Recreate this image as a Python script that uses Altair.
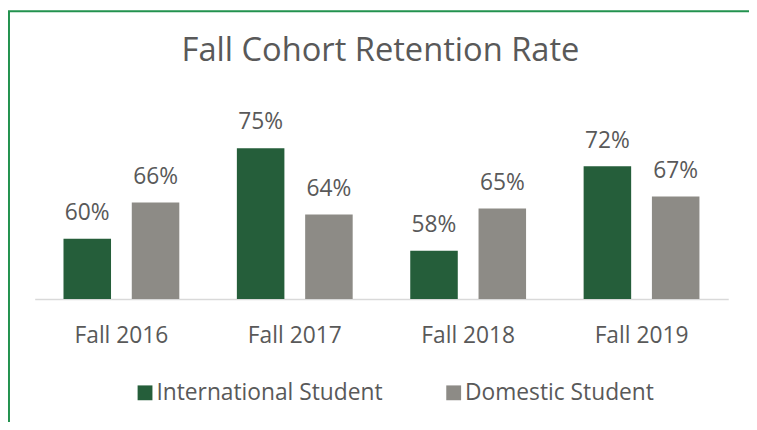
import altair as alt
import pandas as pd

cohorts = ["Fall 2016", "Fall 2017", "Fall 2018", "Fall 2019"]
series = ["International Student", "Domestic Student"]
international = [0.60, 0.75, 0.58, 0.72]
domestic = [0.66, 0.64, 0.65, 0.67]
colors = ["#255E3A", "#8D8B86"]
title_text = "Fall Cohort Retention Rate"

rows = []
for i, c in enumerate(cohorts):
    rows.append({"cohort": c, "group": series[0], "rate": international[i]})
    rows.append({"cohort": c, "group": series[1], "rate": domestic[i]})
df = pd.DataFrame(rows)

FONT = "Open Sans"
TXT = "#595959"
FS = 23

x_enc = alt.X("cohort:N", sort=cohorts,
              scale=alt.Scale(paddingInner=0.332, paddingOuter=0.166),
              axis=alt.Axis(title=None, labelAngle=0, ticks=False, domain=True,
                            domainColor="#D9D9D9", domainWidth=1.5,
                            labelFont=FONT, labelFontSize=FS, labelColor=TXT,
                            labelBaseline="alphabetic", labelPadding=44))
xo_enc = alt.XOffset("group:N", sort=series,
                     scale=alt.Scale(paddingInner=0.304, paddingOuter=0))
y_enc = alt.Y("rate:Q", scale=alt.Scale(domain=[0.5, 0.8], nice=False, zero=False),
              axis=None)

base = alt.Chart(df)

bars = base.mark_bar().encode(
    x=x_enc, xOffset=xo_enc, y=y_enc, y2=alt.datum(0.5),
    color=alt.Color("group:N", sort=series,
                    scale=alt.Scale(domain=series, range=colors),
                    legend=alt.Legend(title=None, orient="none", direction="horizontal",
                                      legendX=100, legendY=266,
                                      symbolType="square", symbolSize=225,
                                      symbolStrokeWidth=0, symbolOpacity=1,
                                      labelFont=FONT, labelFontSize=FS, labelColor=TXT,
                                      labelOffset=0, columnPadding=60,
                                      labelLimit=400)),
)

labels = base.mark_text(font=FONT, fontSize=FS, color=TXT, baseline="alphabetic", dy=-19).encode(
    x=x_enc, xOffset=xo_enc, y=y_enc,
    text=alt.Text("rate:Q", format=".0%"),
)

title = alt.Chart(pd.DataFrame({"t": [title_text]})).mark_text(
    font=FONT, fontSize=33, color=TXT, baseline="alphabetic", align="center"
).encode(
    x=alt.value(349.5), y=alt.value(-58), text="t:N",
)

frame = alt.Chart(pd.DataFrame({"k": [0]})).mark_rect(
    fill="transparent", stroke="#23924F", strokeWidth=2
).encode(
    x=alt.value(-26), x2=alt.value(760),
    y=alt.value(-108), y2=alt.value(360),
)

chart = alt.layer(frame, bars, labels, title).properties(
    width=701, height=183,
    autosize=alt.AutoSizeParams(type="none"),
    padding={"left": 27, "top": 109, "right": 21, "bottom": 122},
).configure_view(stroke=None)

chart.save("out.html", embed_options={"renderer": "svg", "actions": False})
